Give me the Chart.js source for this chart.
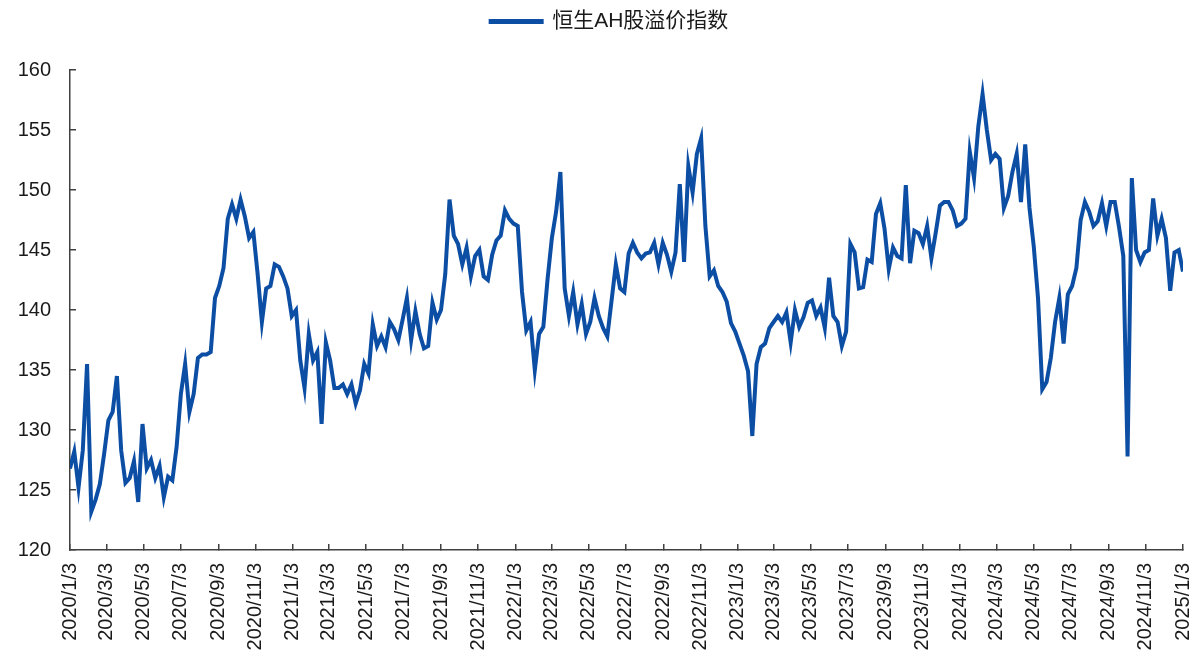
<!DOCTYPE html>
<html>
<head>
<meta charset="utf-8">
<script src="https://cdn.jsdelivr.net/npm/chart.js@4.4.1/dist/chart.umd.min.js"></script>
<style>
  html, body { margin: 0; padding: 0; background: #fff; }
  #wrap { width: 1194px; height: 657px; }
</style>
</head>
<body>
<div id="wrap"><canvas id="ahChart" width="1194" height="657"></canvas></div>
<script>
// 恒生AH股溢价指数, 周度读数 (2020/1/3 起每 7 天一个点)
const seriesName = "恒生AH股溢价指数";
const stepDays = 7;
const ahPremium = [
  126.8, 128.2, 125.2, 128.3, 135.5, 123.2, 124.2, 125.5, 128.0, 130.8,
  131.5, 134.5, 128.3, 125.6, 126.0, 127.4, 124.0, 130.5, 126.8, 127.5,
  126.0, 127.0, 124.4, 126.1, 125.8, 128.6, 133.0, 135.5, 131.5, 133.0,
  136.0, 136.3, 136.3, 136.5, 141.0, 142.0, 143.5, 147.6, 148.8, 147.6,
  149.2, 147.8, 146.0, 146.5, 143.0, 139.0, 141.8, 142.0, 143.8, 143.6,
  142.8, 141.8, 139.5, 140.0, 135.8, 133.5, 138.0, 135.8, 136.5, 130.5,
  137.3, 135.8, 133.5, 133.5, 133.8, 133.0, 133.8, 132.2, 133.3, 135.5,
  134.7, 138.8, 137.0, 137.8, 136.9, 139.0, 138.4, 137.5, 139.2, 141.0,
  137.5, 139.9, 138.0, 136.8, 137.0, 140.6, 139.2, 140.0, 143.0, 149.2,
  146.2, 145.5, 143.8, 145.2, 142.8, 144.5, 145.0, 142.8, 142.5, 144.6,
  145.8, 146.2, 148.3, 147.6, 147.2, 147.0, 141.5, 138.3, 139.0, 135.0,
  138.0, 138.6, 142.6, 146.0, 148.2, 151.5, 141.8, 139.5, 141.5, 138.8,
  140.5, 138.0, 139.0, 141.0, 139.5, 138.5, 137.8, 140.8, 143.8, 141.8,
  141.5, 144.7, 145.6, 144.8, 144.3, 144.7, 144.8, 145.6, 143.8, 145.6,
  144.6, 143.2, 144.8, 150.5, 144.0, 152.0, 149.8, 153.0, 154.3, 147.0,
  142.8, 143.3, 142.0, 141.5, 140.7, 138.9, 138.2, 137.2, 136.2, 134.9,
  129.5, 135.5, 136.9, 137.2, 138.5, 139.0, 139.5, 139.0, 139.8, 137.3,
  140.0, 138.6, 139.4, 140.6, 140.8, 139.5, 140.2, 138.5, 142.7, 139.5,
  139.0, 137.0, 138.2, 145.5, 144.8, 141.8, 141.9, 144.2, 144.0, 148.0,
  148.9, 146.8, 143.4, 145.2, 144.5, 144.3, 150.4, 143.9, 146.6, 146.4,
  145.5, 147.0, 144.3, 146.4, 148.7, 149.0, 149.0, 148.3, 147.0, 147.2,
  147.6, 153.2, 151.0, 155.3, 158.0, 155.0, 152.5, 153.0, 152.6, 148.5,
  149.5, 151.5, 153.0, 149.0, 153.8, 148.5, 145.3, 141.0, 133.4, 134.0,
  136.0, 139.0, 141.0, 137.2, 141.3, 142.0, 143.5, 147.5, 149.0, 148.2,
  147.0, 147.4, 148.9, 147.0, 149.0, 149.0, 146.9, 144.5, 127.8, 151.0,
  145.0, 144.0, 144.8, 145.0, 149.3, 146.2, 147.6, 146.0, 141.6, 144.8,
  145.0, 143.2
];

const tickLabels = [
  "2020/1/3", "2020/3/3", "2020/5/3", "2020/7/3", "2020/9/3", "2020/11/3",
  "2021/1/3", "2021/3/3", "2021/5/3", "2021/7/3", "2021/9/3", "2021/11/3",
  "2022/1/3", "2022/3/3", "2022/5/3", "2022/7/3", "2022/9/3", "2022/11/3",
  "2023/1/3", "2023/3/3", "2023/5/3", "2023/7/3", "2023/9/3", "2023/11/3",
  "2024/1/3", "2024/3/3", "2024/5/3", "2024/7/3", "2024/9/3", "2024/11/3",
  "2025/1/3"
];

const yMin = 120;
const yMax = 160;
const yStep = 5;

(function () {
  const blue = "#0d4ea5";
  const axisColor = "#404040";
  const textColor = "#1a1a1a";
  const latinFont = "'Liberation Sans', Arial, 'Noto Sans CJK SC', sans-serif";

  // 日期 -> 距 2020/1/3 的天数
  const t0 = Date.UTC(2020, 0, 3);
  function dayOffset(label) {
    const [y, m, d] = label.split("/").map(Number);
    return Math.round((Date.UTC(y, m - 1, d) - t0) / 86400000);
  }
  const tickDays = tickLabels.map(dayOffset);
  const points = ahPremium.map((v, i) => ({ x: i * stepDays, y: v }));

  // 图例区域高度固定 (绘图区从 y=70 开始), 图例稍微右移
  const legendSpacer = {
    id: "legendSpacer",
    beforeInit(chart) {
      const fit = chart.legend.fit;
      chart.legend.fit = function () {
        fit.call(this);
        this.height = 70;
      };
    },
    afterLayout(chart) {
      chart.legend.left += 18;
      chart.legend.right += 18;
    },
  };

  new Chart(document.querySelector("#ahChart"), {
    type: "line",
    data: {
      datasets: [
        {
          label: seriesName,
          data: points,
          borderColor: blue,
          backgroundColor: blue,
          borderWidth: 4,
          pointRadius: 0,
          tension: 0,
          fill: false,
        },
      ],
    },
    options: {
      responsive: false,
      animation: false,
      layout: { padding: { left: 0, right: 11, top: 0, bottom: 0 } },
      plugins: {
        legend: {
          position: "top",
          labels: {
            boxWidth: 51,
            boxHeight: 1,
            padding: 11,
            color: textColor,
            font: { family: latinFont, size: 21 },
          },
        },
        tooltip: { enabled: false },
      },
      scales: {
        x: {
          type: "linear",
          min: 0,
          max: tickDays[tickDays.length - 1],
          afterBuildTicks: (scale) => {
            scale.ticks = tickDays.map((v) => ({ value: v }));
          },
          afterFit: (scale) => {
            scale.height = 107;
            scale.paddingLeft = 0;
            scale.paddingRight = 0;
          },
          ticks: {
            autoSkip: false,
            maxRotation: 90,
            minRotation: 90,
            padding: 19,
            color: textColor,
            font: { family: latinFont, size: 20, lineHeight: 1 },
            callback: (value, index) => tickLabels[index],
          },
          grid: {
            drawOnChartArea: false,
            tickLength: -6,
            color: axisColor,
            lineWidth: 1.5,
          },
          border: { color: axisColor, width: 1.5 },
        },
        y: {
          min: yMin,
          max: yMax,
          afterFit: (scale) => {
            scale.width = 70;
          },
          ticks: {
            stepSize: yStep,
            padding: 25,
            color: textColor,
            font: { family: latinFont, size: 20 },
          },
          grid: {
            drawOnChartArea: false,
            tickLength: -6,
            color: axisColor,
            lineWidth: 1.5,
          },
          border: { color: axisColor, width: 1.5 },
        },
      },
    },
    plugins: [legendSpacer],
  });
})();
</script>
</body>
</html>
